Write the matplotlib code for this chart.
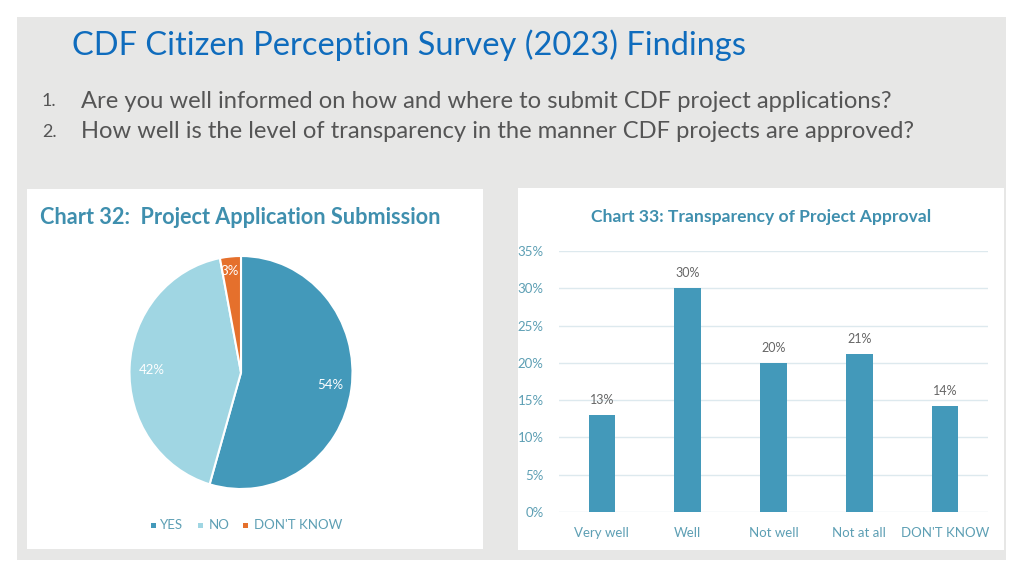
import matplotlib
matplotlib.use("Agg")
import matplotlib.pyplot as plt
from matplotlib.patches import Rectangle

# ---- data ----
pie_labels = ["YES", "NO", "DON'T KNOW"]
pie_values = [54, 42, 3]
bar_categories = ["Very well", "Well", "Not well", "Not at all", "DON'T KNOW"]
bar_values = [13, 30, 20, 21.2, 14.2]
y_ticks = [0, 5, 10, 15, 20, 25, 30, 35]

main_title = "CDF Citizen Perception Survey (2023) Findings"
questions = ["Are you well informed on how and where to submit CDF project applications?",
             "How well is the level of transparency in the manner CDF projects are approved?"]

# ---- styles ----
W, H = 1024, 576
C_DARK = "#4399ba"
C_LIGHT = "#a0d6e3"
C_ORANGE = "#e5702c"
C_CHART_TITLE = "#3f8fae"
C_TEXT = "#5d9fb4"
FONT = "Lato"

fig = plt.figure(figsize=(W / 100, H / 100), dpi=100)
fig.patch.set_facecolor("white")

def fx(x):
    return x / W

def fy(y):
    return 1 - y / H

# background axes for slide panels
bg = fig.add_axes([0, 0, 1, 1], zorder=-10)
bg.set_xlim(0, W)
bg.set_ylim(H, 0)
bg.axis("off")
bg.add_patch(Rectangle((17, 17), 1006 - 17, 560 - 17, facecolor="#e7e7e6", edgecolor="none"))
bg.add_patch(Rectangle((27, 189), 483 - 27, 549 - 189, facecolor="white", edgecolor="none"))
bg.add_patch(Rectangle((518, 188), 1004 - 518, 550 - 188, facecolor="white", edgecolor="none"))

# titles
bg.text(72, 45, main_title, fontsize=23.5, color="#0f6cbd", family=FONT,
        va="center", ha="left")
for i, q in enumerate(questions):
    y = 101 + i * 31
    bg.text(42, y, f"{i + 1}.", fontsize=13, color="#555555", family=FONT,
            va="center", ha="left")
    bg.text(81, y, q, fontsize=17.1, color="#555555", family=FONT,
            va="center", ha="left")

# ---- pie chart ----
bg.text(40, 218, "Chart 32:  Project Application Submission", fontsize=15.6,
        fontweight="bold", color=C_CHART_TITLE, family=FONT, va="center", ha="left")

cx, cy, rx, ry = 241, 372.5, 111.5, 116.5
ax1 = fig.add_axes([fx(cx - rx), fy(cy + ry), fx(2 * rx), fy(cy - ry) - fy(cy + ry)])
ax1.pie(pie_values, colors=[C_DARK, C_LIGHT, C_ORANGE], startangle=90, counterclock=False,
        wedgeprops=dict(edgecolor="white", linewidth=1.5))
ax1.set_aspect("auto")
ax1.set_xlim(-1.0, 1.0)
ax1.set_ylim(-1.0, 1.0)
label_pos = [(0.80, -0.11), (-0.80, 0.02), (-0.10, 0.87)]
for (x, y), v in zip(label_pos, pie_values):
    ax1.text(x, y, f"{v}%", color="white", fontsize=9.5, family=FONT, ha="center", va="center")

# legend
leg_y = 525
sq_x = [151, 198, 243]
txt_x = [160, 209, 254]
for sx, tx, lab, col in zip(sq_x, txt_x, pie_labels, [C_DARK, C_LIGHT, C_ORANGE]):
    bg.add_patch(Rectangle((sx, leg_y - 2.5), 5, 5, facecolor=col, edgecolor="none"))
    bg.text(tx, leg_y, lab, fontsize=9.5, color=C_TEXT, family=FONT, va="center", ha="left")

# ---- bar chart ----
bg.text(761, 217, "Chart 33: Transparency of Project Approval", fontsize=12.6,
        fontweight="bold", color=C_CHART_TITLE, family=FONT, va="center", ha="center")

ax2 = fig.add_axes([fx(559), fy(512), fx(988) - fx(559), fy(251) - fy(512)])
xs = range(len(bar_categories))
ax2.bar(xs, bar_values, width=0.31, color=C_DARK, zorder=3)
for x, v in zip(xs, bar_values):
    ax2.text(x, v + 1.2, f"{round(v)}%", ha="center", va="bottom", fontsize=9,
             color="#666666", family=FONT)
ax2.set_xlim(-0.5, len(bar_categories) - 0.5)
ax2.set_ylim(0, 35)
ax2.set_yticks(y_ticks)
ax2.set_yticklabels([f"{t}%" for t in y_ticks])
ax2.set_xticks(list(xs))
ax2.set_xticklabels(bar_categories)
ax2.grid(axis="y", color="#dde9ee", linewidth=1, zorder=0)
for s in ax2.spines.values():
    s.set_visible(False)
ax2.tick_params(length=0, colors=C_TEXT, labelsize=9.5, pad=11)
for lab in ax2.get_xticklabels() + ax2.get_yticklabels():
    lab.set_family(FONT)
ax2.set_facecolor("none")

fig.savefig("out.png", dpi=100)
